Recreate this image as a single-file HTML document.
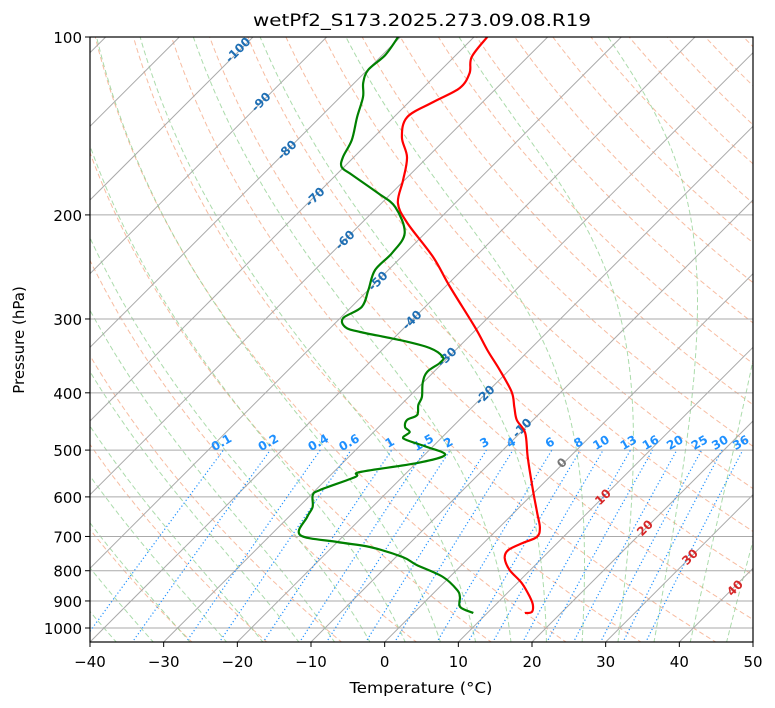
<!DOCTYPE html>
<html><head><meta charset="utf-8"><style>
body{margin:0;background:#fff;}
svg{display:block;font-family:"DejaVu Sans","Liberation Sans",sans-serif;}
</style></head><body>
<svg id="chart" width="775" height="708" viewBox="0 0 775 708">
<defs><clipPath id="plotclip"><rect x="90" y="37" width="663" height="605"/></clipPath></defs>
<rect x="0" y="0" width="775" height="708" fill="#fff"/>
<text x="422" y="26" font-size="17" text-anchor="middle" textLength="338" lengthAdjust="spacingAndGlyphs">wetPf2_S173.2025.273.09.08.R19</text>
<g id="bg" clip-path="url(#plotclip)"></g>
<g id="labels"></g>
<g id="traces" clip-path="url(#plotclip)"></g>
<rect x="90" y="37" width="663" height="605" fill="none" stroke="#000" stroke-width="1.2"/>
<g id="axes"></g>
<text x="421" y="693" font-size="15" text-anchor="middle" textLength="143" lengthAdjust="spacingAndGlyphs">Temperature (°C)</text>
<text x="24" y="340" font-size="15" text-anchor="middle" transform="rotate(-90 24 340)">Pressure (hPa)</text>
</svg>
<script>
// ---- data ----
const tempP = [100,108.1,115.1,122,128.8,136.6,147.7,159.6,174.6,190.9,206.4,235.6,264.9,309.6,338.6,366,398.7,422.7,444.7,467.8,513.6,577.2,638.9,677.4,701.5,718,738,761.4,797.9,839.3,886.2,914.2,939.7,943.2];
const tempT = [-68.2,-67.6,-65.7,-65.0,-66.7,-68.2,-66.2,-62.8,-60.2,-57.8,-53.8,-45.7,-39.3,-30.5,-25.7,-21.3,-16.7,-14.3,-12.2,-9.3,-5.7,-1.0,3.2,5.6,6.4,5.3,4.3,4.9,7.2,10.6,13.6,15.1,15.9,15.1];
const dewP = [100,107.3,113.7,119.6,126.4,136.6,149.4,159.6,166,171.2,183.6,194,214.6,232,247.9,267.9,286.3,298.9,309.6,315.6,325.7,335.9,347.9,356.1,368.8,384.9,406.6,419.5,436.2,444.7,457.1,466.1,475.3,480.9,494.1,509.6,525.9,544.6,555.3,584.2,595.7,624.2,648.9,696.1,715.4,729.5,758.4,782.4,819.8,862.6,886.2,921.5,943.2];
const dewT = [-80.3,-79.6,-79.9,-78.8,-76.9,-75.0,-72.6,-71.5,-70.3,-67.8,-61.9,-57.6,-52.8,-51.8,-51.8,-50.0,-48.6,-49.6,-48.1,-45.4,-38.9,-33.8,-30.8,-30.4,-30.9,-30.0,-28.2,-27.6,-26.4,-27.1,-26.4,-25.1,-25.3,-24.4,-20.7,-17.2,-19.9,-26.4,-26.4,-29.4,-29.7,-28.1,-27.5,-26.0,-20.0,-14.9,-9.1,-6.1,-0.9,2.8,4.1,5.5,8.1];
const xTicks = [-40,-30,-20,-10,0,10,20,30,40,50];
const pTicks = [100,200,300,400,500,600,700,800,900,1000];
const mixRatios = [0.1,0.2,0.4,0.6,1,1.5,2,3,4,6,8,10,13,16,20,25,30,36];
const isoLabelT = [-100,-90,-80,-70,-60,-50,-40,-30,-20,-10,0,10,20,30,40];

// ---- axis functions ----
const X0=90,X1=753,Y0=37,Y1=642,TMIN=-40,TMAX=50;
const sx=(X1-X0)/(TMAX-TMIN);
function yOf(p){return Y0+591*Math.log10(p/100);}
function xOf(T,p){return X0+(T-TMIN)*sx+(Y1-yOf(p));}
const NS='http://www.w3.org/2000/svg';
function mk(tag,attrs,parent){const e=document.createElementNS(NS,tag);for(const k in attrs)e.setAttribute(k,attrs[k]);parent.appendChild(e);return e;}
function pathD(ps,ts){return ps.map((p,i)=>(i?'L':'M')+xOf(ts[i],p).toFixed(1)+' '+yOf(p).toFixed(1)).join(' ');}
function smoothD(ps,ts){
  const pts=ps.map((p,i)=>[xOf(ts[i],p),yOf(p)]);
  let d='M'+pts[0][0].toFixed(1)+' '+pts[0][1].toFixed(1);
  for(let i=0;i<pts.length-1;i++){
    const p0=pts[Math.max(0,i-1)],p1=pts[i],p2=pts[i+1],p3=pts[Math.min(pts.length-1,i+2)];
    const c1=[p1[0]+(p2[0]-p0[0])/6,p1[1]+(p2[1]-p0[1])/6];
    const c2=[p2[0]-(p3[0]-p1[0])/6,p2[1]-(p3[1]-p1[1])/6];
    d+=` C${c1[0].toFixed(1)} ${c1[1].toFixed(1)} ${c2[0].toFixed(1)} ${c2[1].toFixed(1)} ${p2[0].toFixed(1)} ${p2[1].toFixed(1)}`;
  }
  return d;
}
const bg=document.getElementById('bg'),lab=document.getElementById('labels'),tr=document.getElementById('traces'),ax=document.getElementById('axes');
const PB=1060;
const lev=[];for(let p=PB;p>=99;p-=5)lev.push(p);
// dry adiabats
for(let th=-30;th<=200;th+=10){
  const ts=lev.map(p=>(th+273.15)*Math.pow(p/1000,0.286)-273.15);
  const e=mk('path',{d:pathD(lev,ts),fill:'none',stroke:'#f4a582',"stroke-width":1,"stroke-dasharray":'5,3',opacity:0.75},bg);
  
  
}
// moist adiabats
function es(T){return 6.112*Math.exp(17.67*T/(T+243.5));}
function moistRate(p,T){const Rd=287.04,Cp=1005.7,Lv=2.501e6,eps=0.622;const e=es(T-273.15);const rs=eps*e/(p-e);
  return (1/p)*(Rd*T+Lv*rs)/(Cp+Lv*Lv*rs*eps/(Rd*T*T));}
function moist(t0){
  const ps=[],ts=[];let T=t0+273.15;
  for(let q=1000;q<PB;q+=1){T+=moistRate(q,T);}
  for(let p=PB;p>=100;p-=1){if(p%5===0){ps.push(p);ts.push(T-273.15);}T-=moistRate(p,T);}
  return [ps,ts];
}
for(let t=-50;t<=45;t+=5){
  const [ps,ts]=moist(t);
  const e=mk('path',{d:pathD(ps,ts),fill:'none',stroke:'#8fcf8f',"stroke-width":1,"stroke-dasharray":'5,3',opacity:0.75},bg);
  
  
}
// isotherms
for(let T=-200;T<=50;T+=10){
  const e=mk('line',{x1:xOf(T,PB),y1:yOf(PB),x2:xOf(T,100),y2:yOf(100),stroke:'#aaa',"stroke-width":1},bg);
  
  
}
// isobars
pTicks.forEach(p=>{
  const e=mk('line',{x1:X0,y1:yOf(p),x2:X1,y2:yOf(p),stroke:'#aaa',"stroke-width":1},bg);
  
  
});
// mixing ratio lines
function tdw(w,p){const e=p*w/(0.622+w);const l=Math.log(e/6.112);return 243.5*l/(17.67-l);}
const mlev=lev.filter(p=>p>=500);
mixRatios.forEach(g=>{
  const w=g/1000;
  const e=mk('path',{d:pathD(mlev,mlev.map(p=>tdw(w,p))),fill:'none',stroke:'#1e90ff',"stroke-width":1.2,"stroke-dasharray":'1.2,2.4'},bg);
  
  
  const x=xOf(tdw(w,500),500),y=yOf(500)-4;
  const t=mk('text',{x:x,y:y,"font-size":12,"font-weight":'bold',fill:'#1e90ff',"text-anchor":'middle',transform:`rotate(-30 ${x} ${y})`},lab);
  t.textContent=String(g);
  
  
});
// isotherm labels
const labPos={'-100':[238,50],'-90':[261,102],'-80':[287,150],'-70':[315,197],'-60':[345,240],'-50':[378,281],'-40':[412,320],'-30':[447,357],'-20':[485,395],'-10':[522,428],'0':[562,463],'10':[603,497],'20':[645,528],'30':[690,557],'40':[735,588]};
isoLabelT.forEach(T=>{
  const [x,y]=labPos[String(T)];
  const col=T<0?'#1f6fb4':(T===0?'#777':'#d62728');
  const t=mk('text',{x:x,y:y+4,"font-size":12,"font-weight":'bold',fill:col,"text-anchor":'middle',transform:`rotate(-45 ${x} ${y})`},lab);
  t.textContent=String(T);
  
  
});
// traces
const tl=mk('path',{d:smoothD(tempP,tempT),fill:'none',stroke:'#ff0000',"stroke-width":2.2,"stroke-linejoin":'round'},tr);


const dl=mk('path',{d:smoothD(dewP,dewT),fill:'none',stroke:'#008000',"stroke-width":2.2,"stroke-linejoin":'round'},tr);


// axes ticks
xTicks.forEach(T=>{
  const x=X0+(T-TMIN)*sx;
  const l=mk('line',{x1:x,y1:Y1,x2:x,y2:Y1+5,stroke:'#000',"stroke-width":1},ax);
  
  
  const t=mk('text',{x:x,y:Y1+25,"font-size":15,"text-anchor":'middle'},ax);
  t.textContent=(T<0?'\u2212'+(-T):String(T));
  
  
});
pTicks.forEach(p=>{
  const y=yOf(p);
  const l=mk('line',{x1:X0-5,y1:y,x2:X0,y2:y,stroke:'#000',"stroke-width":1},ax);
  
  
  const t=mk('text',{x:X0-8,y:y+6,"font-size":15,"text-anchor":'end'},ax);
  t.textContent=String(p);
  
  
});
</script>
</body></html>
